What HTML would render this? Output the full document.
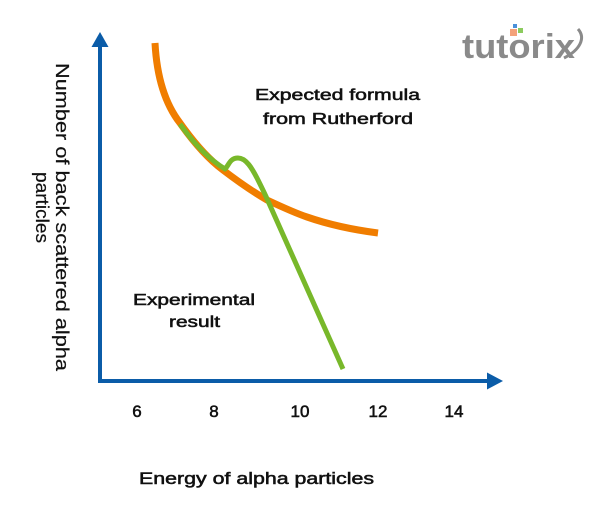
<!DOCTYPE html>
<html>
<head>
<meta charset="utf-8">
<style>
html,body{margin:0;padding:0;background:#fff;}
svg{display:block;}
</style>
</head>
<body>
<svg width="600" height="507" viewBox="0 0 600 507" xmlns="http://www.w3.org/2000/svg">
  <rect width="600" height="507" fill="#fff"/>
  <!-- axes -->
  <g stroke="#0B5CA8" stroke-width="4" fill="none">
    <line x1="100" y1="44" x2="100" y2="381"/>
    <line x1="98" y1="381" x2="490" y2="381"/>
  </g>
  <polygon points="100,32 91.5,47 108.5,47" fill="#0B5CA8"/>
  <polygon points="503,381 487,372.5 487,389.5" fill="#0B5CA8"/>

  <!-- orange curve -->
  <path d="M155,43 C157,80 166,105 180,123 C192,140 207,158 223,170 C240,183 255,193 267,200 C282,207 295,213 307,217 C330,225 355,230 378,233" fill="none" stroke="#F07D00" stroke-width="7"/>

  <!-- green curve -->
  <path d="M180,124 C192,141 207,158 225,169 C229,165 230,158 238,158 C246,158 252,168 258,180 C262,188 265,194 268,201 L343,369" fill="none" stroke="#78B82A" stroke-width="5" stroke-linejoin="round"/>

  <!-- annotation text -->
  <g font-family="'Liberation Sans', sans-serif" font-size="16" fill="#111" stroke="#111" stroke-width="0.55">
    <text x="255" y="100" textLength="165" lengthAdjust="spacingAndGlyphs">Expected formula</text>
    <text x="263" y="124" textLength="150" lengthAdjust="spacingAndGlyphs">from Rutherford</text>
    <text x="133" y="305" textLength="122" lengthAdjust="spacingAndGlyphs">Experimental</text>
    <text x="169" y="327" textLength="51" lengthAdjust="spacingAndGlyphs">result</text>
  </g>

  <!-- tick labels -->
  <g font-family="'Liberation Sans', sans-serif" font-size="17" fill="#111" stroke="#111" stroke-width="0.55" text-anchor="middle">
    <text x="137" y="417">6</text>
    <text x="214" y="417">8</text>
    <text x="300" y="417">10</text>
    <text x="378" y="417">12</text>
    <text x="454" y="417">14</text>
  </g>

  <!-- x label -->
  <text x="139" y="484" font-family="'Liberation Sans', sans-serif" font-size="17" fill="#111" stroke="#111" stroke-width="0.55" textLength="235" lengthAdjust="spacingAndGlyphs">Energy of alpha particles</text>

  <!-- y label (rotated clockwise) -->
  <g font-family="'Liberation Sans', sans-serif" font-size="18" fill="#111" stroke="#111" stroke-width="0.2">
    <text transform="translate(56,63) rotate(90)" textLength="308" lengthAdjust="spacingAndGlyphs">Number of back scattered alpha</text>
    <text transform="translate(36,172) rotate(90)" textLength="71" lengthAdjust="spacingAndGlyphs">particles</text>
  </g>

  <!-- tutorix logo -->
  <g>
    <rect x="510" y="29" width="7" height="7" fill="#F4A27A"/>
    <rect x="518" y="28" width="5" height="5" fill="#8CCB5E"/>
    <rect x="513" y="24" width="4" height="4" fill="#4A90D9"/>
    <text x="462" y="58" font-family="'Liberation Sans', sans-serif" font-weight="bold" font-size="34" fill="#8A8A8A" textLength="113" lengthAdjust="spacingAndGlyphs">tutorix</text>
    <path d="M564,58 C580,50 586,38 578,29" fill="none" stroke="#8A8A8A" stroke-width="3"/>
  </g>
</svg>
</body>
</html>
